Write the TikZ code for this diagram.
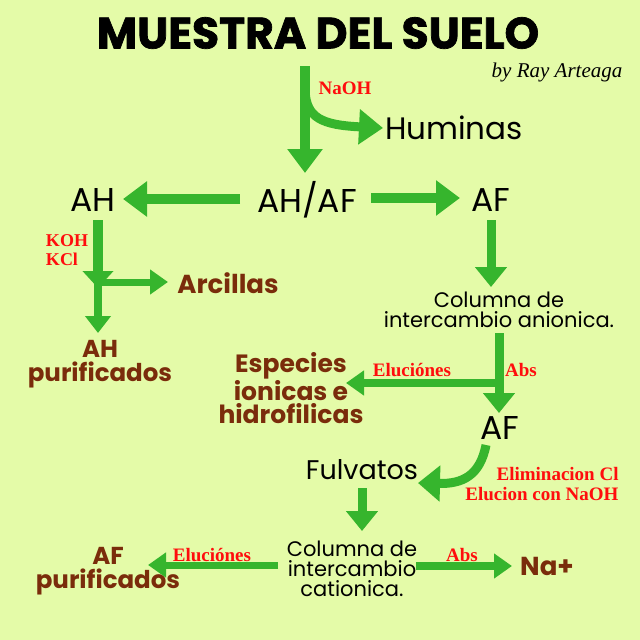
\documentclass[tikz,border=0pt]{standalone}
\usepackage{fontspec}
\setmainfont{Poppins}
\newfontfamily\labelfont{Liberation Serif}
\newfontfamily\titlefont{Poppins}[BoldFeatures={FakeBold=1.6}]
\usetikzlibrary{arrows.meta,positioning,calc}
\usepackage{xcolor}
\definecolor{bgcol}{HTML}{E4FBA8}
\definecolor{flowgreen}{HTML}{36B52D}
\definecolor{soilbrown}{HTML}{7A2C0B}
\definecolor{labred}{HTML}{FF0D0D}

\tikzset{
  flow/.style={draw=flowgreen, line width=10pt, -{Triangle[length=24pt,width=34pt]}},
  flowmid/.style={draw=flowgreen, line width=9pt, -{Triangle[length=20pt,width=31pt]}},
  flowsmall/.style={draw=flowgreen, line width=7pt, -{Triangle[length=18pt,width=24pt]}},
  stage/.style={font=\fontsize{33}{36}\selectfont, text=black, inner sep=0pt},
  column/.style={font=\fontsize{21}{20}\selectfont, text=black, align=center, inner sep=0pt},
  product/.style={font=\fontsize{26}{24}\selectfont\bfseries, text=soilbrown, align=center, inner sep=0pt},
  reagent/.style={font=\labelfont\fontsize{19}{19.5}\selectfont\bfseries, text=labred, inner sep=0pt},
}

\begin{document}
\begin{tikzpicture}[x=1pt,y=-1pt]
\fill[bgcol] (0,0) rectangle (640,640);
\useasboundingbox (0,0) rectangle (640,640);

% titulo
\node[font=\titlefont\fontsize{44}{48}\selectfont\bfseries, inner sep=0pt] (title) at (318,33) {MUESTRA DEL SUELO};
\node[font=\labelfont\itshape\fontsize{21}{22}\selectfont, inner sep=0pt] (author) at (557,72) {by Ray Arteaga};

% primera etapa
\node[stage, font=\fontsize{31}{34}\selectfont] (huminas) at (454,128) {Huminas};
\node[reagent] (naoh) at (345,88) {NaOH};
\node[stage] (ahaf) at (307,200) {AH/AF};
\node[stage] (ah) at (93,200) {AH};
\node[stage] (af) at (491,200) {AF};

\coordinate (top) at (305,66);
\coordinate (topend) at (305,173);
\coordinate (split) at (305,90);
\coordinate (humin) at (383,128);
\draw[flow] (top) -- (topend);
\draw[flow, line width=9pt] (split) .. controls (306,118) and (322,125) .. (humin);

\coordinate (ahafw) at (240,199);
\coordinate (ahafe) at (371,198);
\draw[flow] (ahafw) -- (123,199);
\draw[flow] (ahafe) -- (460,198);

% rama AH
\node[reagent, align=left, font=\labelfont\fontsize{18}{19.5}\selectfont\bfseries] (koh) at (67,250) {KOH\\KCl};
\node[product] (arcillas) at (228,283) {Arcillas};
\node[product, font=\fontsize{24.5}{24}\selectfont\bfseries] (ahpur) at (100,364) {AH\\purificados};
\coordinate (ahtop) at (98,220);
\coordinate (ahjoin) at (98,288);
\draw[flowmid, line width=10pt, -{Triangle[length=17pt,width=30pt]}] (ahtop) -- (ahjoin);
\draw[flowsmall, line width=8pt, -{Triangle[length=17pt,width=25pt]}] (98,284) -- (98,333);
\draw[flowsmall] (98,282) -- (168,282);

% rama AF
\node[column] (col1) at (499,310) {Columna de\\intercambio anionica.};
\draw[flowmid] (491,220) -- (491,287);
\node[reagent] (eluc1) at (412,370) {Eluciónes};
\node[reagent] (abs1) at (521,370) {Abs};
\node[product, font=\fontsize{25}{23}\selectfont\bfseries] (esp) at (291,388) {Especies\\ionicas e\\hidrofilicas};
\node[stage] (af2) at (500,428) {AF};
\coordinate (colout) at (499,333);
\draw[flowmid] (colout) -- (499,413);
\draw[flowsmall, line width=8pt] (503,383) -- (346,383);

\node[stage, font=\fontsize{27}{30}\selectfont] (fulv) at (362,470) {Fulvatos};
\node[reagent, align=right] (elim) at (542,484) {Eliminacion Cl\\Elucion con NaOH};
\draw[flow, line width=9pt, -{Triangle[length=22pt,width=35pt]}] (486,445) .. controls (480,476) and (462,484) .. (418,483);

% columna cationica
\node[column] (col2) at (352,569) {Columna de\\intercambio\\cationica.};
\draw[flowmid] (362,488) -- (362,531);
\node[reagent] (eluc2) at (212,555) {Eluciónes};
\node[reagent] (abs2) at (462,555) {Abs};
\node[product, font=\fontsize{24.5}{24}\selectfont\bfseries] (afpur) at (108,571) {AF\\purificados};
\node[product] (na) at (547,566) {Na+};
\draw[flowsmall] (278,565) -- (148,565);
\draw[flowsmall, line width=8pt] (416,566) -- (512,566);
\end{tikzpicture}
\end{document}
